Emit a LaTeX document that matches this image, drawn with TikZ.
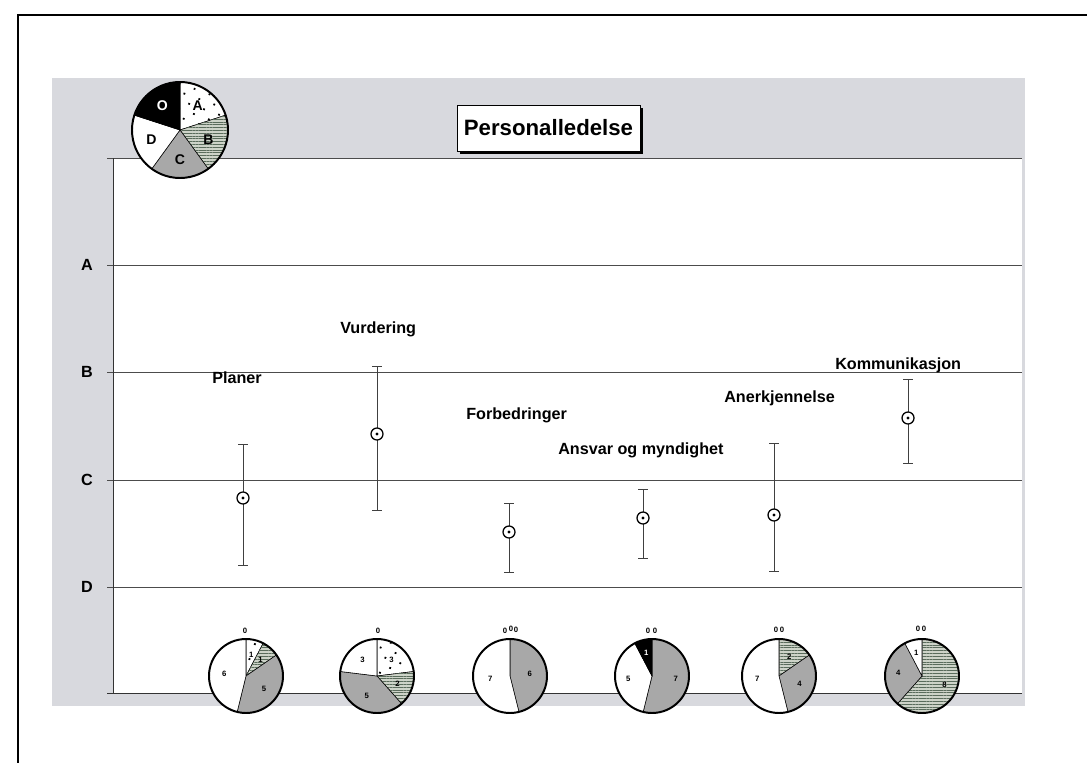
\documentclass[tikz,border=0pt]{standalone}
\usepackage{fontspec}
\setmainfont{Liberation Sans}
\usetikzlibrary{patterns.meta,calc}

\definecolor{panelgraa}{RGB}{216,217,222}
\definecolor{graaC}{RGB}{168,168,168}
\definecolor{graaB}{RGB}{205,211,200}
\definecolor{strekB}{RGB}{90,108,92}

\begin{document}
\begin{tikzpicture}[x=0.025cm, y=0.025cm,
    akse/.style={font=\fontsize{11.5}{13}\selectfont\bfseries},
    etikett/.style={font=\fontsize{11.5}{13}\selectfont\bfseries, anchor=west, inner sep=0pt},
    tittel/.style={font=\fontsize{15.8}{18}\selectfont\bfseries, inner sep=0pt},
    feil/.style={black!75, line width=0.6pt},
    markor/.style={circle, draw, fill=white, line width=0.9pt, minimum size=0.3cm, inner sep=0pt},
    skA/.style={draw=black, thin, fill=white, postaction={pattern={Dots[distance=8pt, radius=0.9pt, angle=25]}, pattern color=black}},
    skB/.style={draw=black, thin, fill=graaB, postaction={pattern={Lines[distance=2pt, line width=0.3pt]}, pattern color=strekB}},
    skC/.style={draw=black, thin, fill=graaC},
    skD/.style={draw=black, thin, fill=white},
    skO/.style={draw=black, thin, fill=black},
    kakeliten/.style={font=\fontsize{5.5}{6}\selectfont\bfseries, inner sep=0pt},
    forkl/.style={font=\fontsize{10}{11}\selectfont\bfseries, inner sep=0pt}
]
    \useasboundingbox (0,0) rectangle (1087,-763);

    % Ramme
    \draw[line width=0.8pt] (18,-763) -- (18,-15) -- (1087,-15);

    % Bakgrunn og plottflate
    \fill[panelgraa] (52,-78) rectangle (1025,-706);
    \fill[white] (113,-158) rectangle (1022,-693);

    % Rutenett med A-D
    \foreach \y/\b in {265/A,372/B,480/C,587/D} {
        \draw[black!70, line width=0.5pt] (107,-\y) -- (1022,-\y);
        \node[akse] (akse\b) at (87,-\y) {\b};
    }
    \draw[black!70, line width=0.5pt] (107,-158) -- (1022,-158);
    \draw[black!80, line width=0.7pt] (107,-693) -- (1022,-693);
    \draw[black!80, line width=0.7pt] (113,-158) -- (113,-693);

    % Tittel
    \fill[black] (460,-108) rectangle (643,-154);
    \draw[fill=white, line width=0.6pt] (457,-105) rectangle (640,-151);
    \node[tittel] (tittel) at (548.5,-128) {Personalledelse};

    % Middelverdi med spredning
    \foreach \i/\x/\m/\o/\n in {1/243/498/444/565, 2/377/434/366/510, 3/509/532/503/572,
                               4/643/518/489/558, 5/774/515/443/571, 6/908/418/379/463} {
        \coordinate (o\i) at (\x,-\o);
        \coordinate (n\i) at (\x,-\n);
        \draw[feil] (o\i) -- (n\i);
        \draw[feil] (o\i) +(-5,0) -- +(5,0);
        \draw[feil] (n\i) +(-5,0) -- +(5,0);
        \node[markor] (m\i) at (\x,-\m) {};
        \fill (m\i) circle[radius=1.7];
    }

    % Navn paa punktene
    \foreach \i/\x/\y/\t in {1/212/378/Planer, 2/340/329/Vurdering, 3/466/415/Forbedringer,
                             4/558/450/Ansvar og myndighet, 5/724/398/Anerkjennelse, 6/835/365/Kommunikasjon}
        \node[etikett] (e\i) at (\x,-\y) {\t};

    % Kakediagram under hvert punkt
    \coordinate (k1) at (246,-676);
    \foreach \a/\b/\s/\t/\f in {90/62.3/skA/1/black, 62.3/34.6/skB/1/black, 34.6/-103.8/skC/5/black, -103.8/-270/skD/6/black} {
        \fill[\s] (k1) -- ++(\a:37) arc[start angle=\a, end angle=\b, radius=37] -- cycle;
        \node[kakeliten, text=\f] (k1-\s) at ($(k1)+({(\a+\b)/2}:22)$) {\t};
    }
    \draw[line width=1.4pt] (k1) circle[radius=37];
    \node[kakeliten] (k1-0) at (245,-631) {0};

    \coordinate (k2) at (377,-676);
    \foreach \a/\b/\s/\t/\f in {90/7/skA/3/black, 7/-48.5/skB/2/black, -48.5/-187/skC/5/black, -187/-270/skD/3/black} {
        \fill[\s] (k2) -- ++(\a:37) arc[start angle=\a, end angle=\b, radius=37] -- cycle;
        \node[kakeliten, text=\f] (k2-\s) at ($(k2)+({(\a+\b)/2}:22)$) {\t};
    }
    \draw[line width=1.4pt] (k2) circle[radius=37];
    \node[kakeliten] (k2-0) at (378,-631) {0};

    \coordinate (k3) at (510,-676);
    \foreach \a/\b/\s/\t/\f in {90/-76/skC/6/black, -76/-270/skD/7/black} {
        \fill[\s] (k3) -- ++(\a:37) arc[start angle=\a, end angle=\b, radius=37] -- cycle;
        \node[kakeliten, text=\f] (k3-\s) at ($(k3)+({(\a+\b)/2}:20)$) {\t};
    }
    \draw[line width=1.4pt] (k3) circle[radius=37];
    \node[kakeliten] (k3-0a) at (505,-631) {0};
    \node[kakeliten] (k3-0b) at (511,-629) {0};
    \node[kakeliten] (k3-0c) at (516,-630) {0};

    \coordinate (k4) at (652,-676);
    \foreach \a/\b/\s/\t/\f in {90/-103.8/skC/7/black, -103.8/-242.3/skD/5/black, -242.3/-270/skO/1/white} {
        \fill[\s] (k4) -- ++(\a:37) arc[start angle=\a, end angle=\b, radius=37] -- cycle;
        \node[kakeliten, text=\f] (k4-\s) at ($(k4)+({(\a+\b)/2}:24)$) {\t};
    }
    \draw[line width=1.4pt] (k4) circle[radius=37];
    \node[kakeliten] (k4-0a) at (648,-631) {0};
    \node[kakeliten] (k4-0b) at (655,-631) {0};

    \coordinate (k5) at (779,-676);
    \foreach \a/\b/\s/\t/\f in {90/34.6/skB/2/black, 34.6/-76/skC/4/black, -76/-270/skD/7/black} {
        \fill[\s] (k5) -- ++(\a:37) arc[start angle=\a, end angle=\b, radius=37] -- cycle;
        \node[kakeliten, text=\f] (k5-\s) at ($(k5)+({(\a+\b)/2}:22)$) {\t};
    }
    \draw[line width=1.4pt] (k5) circle[radius=37];
    \node[kakeliten] (k5-0a) at (776,-630) {0};
    \node[kakeliten] (k5-0b) at (782,-630) {0};

    \coordinate (k6) at (922,-676);
    \foreach \a/\b/\s/\t/\f in {90/-131.5/skB/8/black, -131.5/-242.3/skC/4/black, -242.3/-270/skD/1/black} {
        \fill[\s] (k6) -- ++(\a:37) arc[start angle=\a, end angle=\b, radius=37] -- cycle;
        \node[kakeliten, text=\f] (k6-\s) at ($(k6)+({(\a+\b)/2}:24)$) {\t};
    }
    \draw[line width=1.4pt] (k6) circle[radius=37];
    \node[kakeliten] (k6-0a) at (918,-629) {0};
    \node[kakeliten] (k6-0b) at (924,-629) {0};

    % Forklaring oppe til venstre
    \coordinate (kf) at (180,-130);
    \foreach \a/\b/\s/\t/\f in {90/18/skA/A/black, 18/-54/skB/B/black, -54/-126/skC/C/black,
                                -126/-198/skD/D/black, -198/-270/skO/O/white} {
        \fill[\s] (kf) -- ++(\a:48) arc[start angle=\a, end angle=\b, radius=48] -- cycle;
        \node[forkl, text=\f] (f\t) at ($(kf)+({(\a+\b)/2}:30)$) {\t};
    }
    \draw[line width=1.4pt] (kf) circle[radius=48];
\end{tikzpicture}
\end{document}
